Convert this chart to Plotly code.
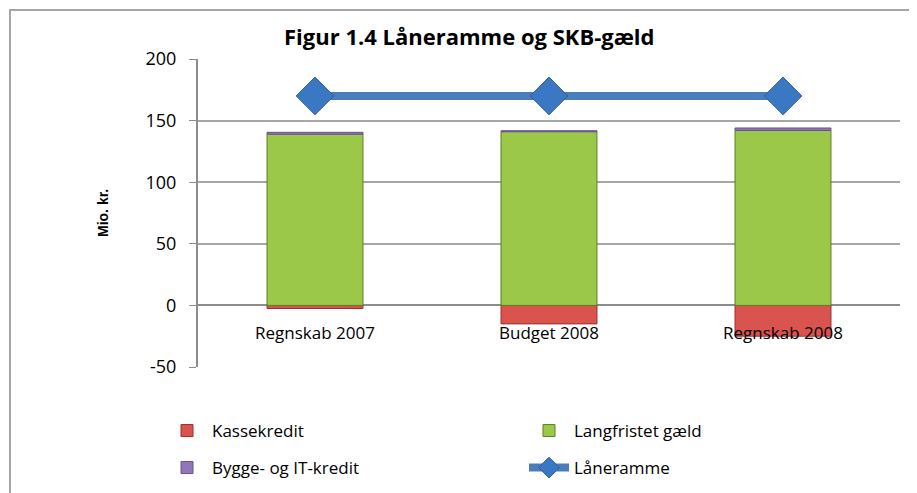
import plotly.graph_objects as go

categories = ["Regnskab 2007", "Budget 2008", "Regnskab 2008"]
kassekredit = [-2.5, -15, -25]
langfristet = [139, 141, 142]
bygge_it = [1.5, 0.8, 2]
laaneramme = [170, 170, 170]
y_ticks = [-50, 0, 50, 100, 150, 200]
y_ticktext = ["-50", "0", "50", "100", "150", "200"]

font = "Open Sans, sans-serif"
# page offset of the plot area (browser body margin is 8px)
PL, PT, PW, PH = 198, 59, 702, 308

def px(x):
    return (x - PL) / PW

def py(y):
    return (PT + PH - y) / PH

fig = go.Figure()
fig.add_trace(go.Bar(x=categories, y=kassekredit, name="Kassekredit", legend="legend",
                     marker=dict(color="#D9534F", line=dict(color="#9B2F2C", width=1))))
fig.add_trace(go.Bar(x=categories, y=langfristet, name="Langfristet gæld", legend="legend",
                     marker=dict(color="#9CC84A", line=dict(color="#5E7D22", width=1))))
fig.add_trace(go.Bar(x=categories, y=bygge_it, name="Bygge- og IT-kredit", legend="legend2",
                     marker=dict(color="#9277B8", line=dict(color="#6A4F93", width=1))))
fig.add_trace(go.Scatter(x=categories, y=laaneramme, name="Låneramme", mode="lines+markers",
                         legend="legend2",
                         line=dict(color="#4A7EBB", width=8),
                         marker=dict(symbol="diamond", size=29, color="#3B78C4",
                                     line=dict(color="#2E5E9A", width=1))))

for c in categories:
    fig.add_annotation(x=c, y=0, text=c, showarrow=False, yanchor="top", yshift=-14,
                       font=dict(family=font, size=17, color="#000"))

fig.add_annotation(xref="paper", yref="paper", x=px(103), y=0.5, text="<b>Mio. kr.</b>",
                   textangle=-90, showarrow=False, xanchor="center", yanchor="middle",
                   font=dict(family="Liberation Sans, Arial, sans-serif", size=14, color="#000"))

fig.add_annotation(xref="paper", yref="paper", x=px(469), y=py(36),
                   text="<b>Figur 1.4 Låneramme og SKB-gæld</b>", showarrow=False,
                   xanchor="center", yanchor="middle",
                   font=dict(family=font, size=22, color="#000"))

fig.add_shape(type="rect", xref="paper", yref="paper",
              x0=px(10), x1=px(912), y0=py(520), y1=py(10),
              line=dict(color="#A6A6A6", width=2), layer="below")

legend_common = dict(orientation="h", xanchor="left", yanchor="middle", entrywidth=307,
                     font=dict(family=font, size=17), itemwidth=40, bgcolor="rgba(0,0,0,0)")

fig.update_layout(
    width=917, height=493,
    margin=dict(l=PL - 8, r=917 + 8 - PL - PW, t=PT - 8, b=493 + 8 - PT - PH, autoexpand=False),
    paper_bgcolor="white", plot_bgcolor="white",
    barmode="relative", bargap=0.59,
    font=dict(family=font, color="#000"),
    xaxis=dict(showticklabels=False, showgrid=False, showline=False, zeroline=False,
               range=[-0.5, 2.5], automargin=False),
    yaxis=dict(range=[-50, 200], tickvals=y_ticks, ticktext=y_ticktext, showgrid=True,
               gridcolor="#A6A6A6", automargin=False,
               gridwidth=1.5, showline=True, linecolor="#8C8C8C", linewidth=2,
               ticks="outside", ticklen=7, tickcolor="#8C8C8C", ticklabelstandoff=9,
               zeroline=True, zerolinecolor="#8C8C8C", zerolinewidth=2,
               tickfont=dict(family=font, size=18, color="#000")),
    legend=dict(x=px(162), y=py(431), **legend_common),
    legend2=dict(x=px(162), y=py(468), **legend_common),
    showlegend=True,
)

fig.write_html("out.html")
